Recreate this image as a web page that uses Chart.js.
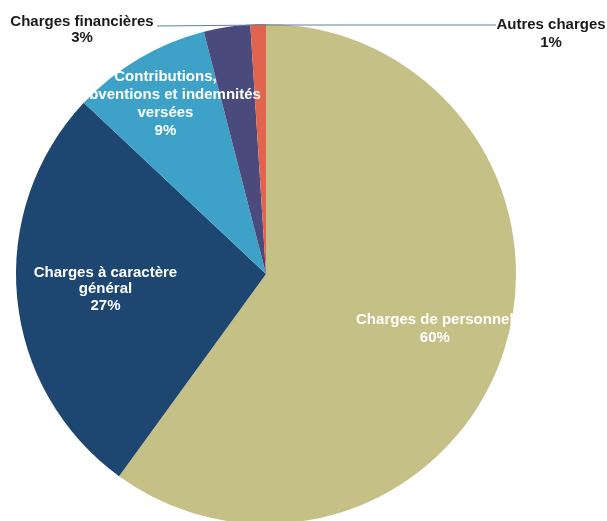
<!DOCTYPE html>
<html>
<head>
<meta charset="utf-8">
<script src="https://cdn.jsdelivr.net/npm/chart.js@4/dist/chart.umd.min.js"></script>
<style>
  html, body { margin: 0; padding: 0; background: #fff; overflow: hidden; }
  #wrap { width: 607px; height: 530px; }
</style>
</head>
<body>
<div id="wrap"><canvas id="pie"></canvas></div>
<script>
// Répartition des charges de fonctionnement (%)
const categories = [
  "Charges de personnel",
  "Charges à caractère général",
  "Contributions, Subventions et indemnités versées",
  "Charges financières",
  "Autres charges"
];
const valeurs = [60, 27, 9, 3, 1];
const couleurs = ["#c5c086", "#1d4771", "#3ea2c8", "#4b4a7c", "#e0644e"];

// lignes de texte affichées pour chaque part
const etiquettes = [
  ["Charges de personnel"],
  ["Charges à caractère", "général"],
  ["Contributions,", "Subventions et indemnités", "versées"],
  ["Charges financières"],
  ["Autres charges"]
];

const FONT = 'bold 15px "Liberation Sans", Arial, sans-serif';

// étiquettes dans les parts (blanc) ou à l'extérieur avec un trait de rappel (noir)
const etiquettesPlugin = {
  id: "etiquettes",
  afterDatasetsDraw(chart, args, opts) {
    const ctx = chart.ctx;
    const arcs = chart.getDatasetMeta(0).data;
    const total = valeurs.reduce((s, v) => s + v, 0);
    ctx.save();
    ctx.font = FONT;
    ctx.textAlign = "center";
    ctx.textBaseline = "middle";

    arcs.forEach((arc, i) => {
      const pct = Math.round(valeurs[i] / total * 100) + "%";
      const lignes = etiquettes[i].concat(pct);
      const ext = opts.exterieur[i];
      let x, y, h;
      if (ext) {
        x = ext.x; y = ext.y; h = ext.h;
        // trait de rappel horizontal jusqu'au sommet du camembert
        ctx.strokeStyle = "#5b82a6";
        ctx.lineWidth = 1;
        ctx.beginPath();
        ctx.moveTo(ext.lx, ext.ly);
        ctx.lineTo(arc.x, arc.y - arc.outerRadius + 1);
        ctx.stroke();
        ctx.fillStyle = "#1a1a1a";
      } else {
        const mid = (arc.startAngle + arc.endAngle) / 2;
        const r = arc.outerRadius * opts.rayons[i];
        x = arc.x + Math.cos(mid) * r;
        y = arc.y + Math.sin(mid) * r;
        h = opts.interligne[i];
        ctx.fillStyle = "#ffffff";
      }
      const y0 = y - (lignes.length - 1) * h / 2;
      lignes.forEach((l, k) => ctx.fillText(l, x, y0 + k * h));
    });
    ctx.restore();
  }
};

new Chart(document.getElementById("pie"), {
  type: "pie",
  data: {
    labels: categories,
    datasets: [{
      data: valeurs,
      backgroundColor: couleurs,
      borderWidth: 0
    }]
  },
  options: {
    responsive: true,
    maintainAspectRatio: false,
    animation: false,
    layout: { padding: { left: 16, right: 91, top: 24, bottom: 6 } },
    plugins: {
      legend: { display: false },
      tooltip: { enabled: false },
      etiquettes: {
        rayons: [0.71, 0.645, 0.79],
        interligne: [18, 16.5, 18],
        exterieur: [null, null, null,
          { x: 82, y: 30, h: 16, lx: 157, ly: 26 },
          { x: 551, y: 34, h: 18, lx: 496, ly: 25 }
        ]
      }
    }
  },
  plugins: [etiquettesPlugin]
});
</script>
</body>
</html>
